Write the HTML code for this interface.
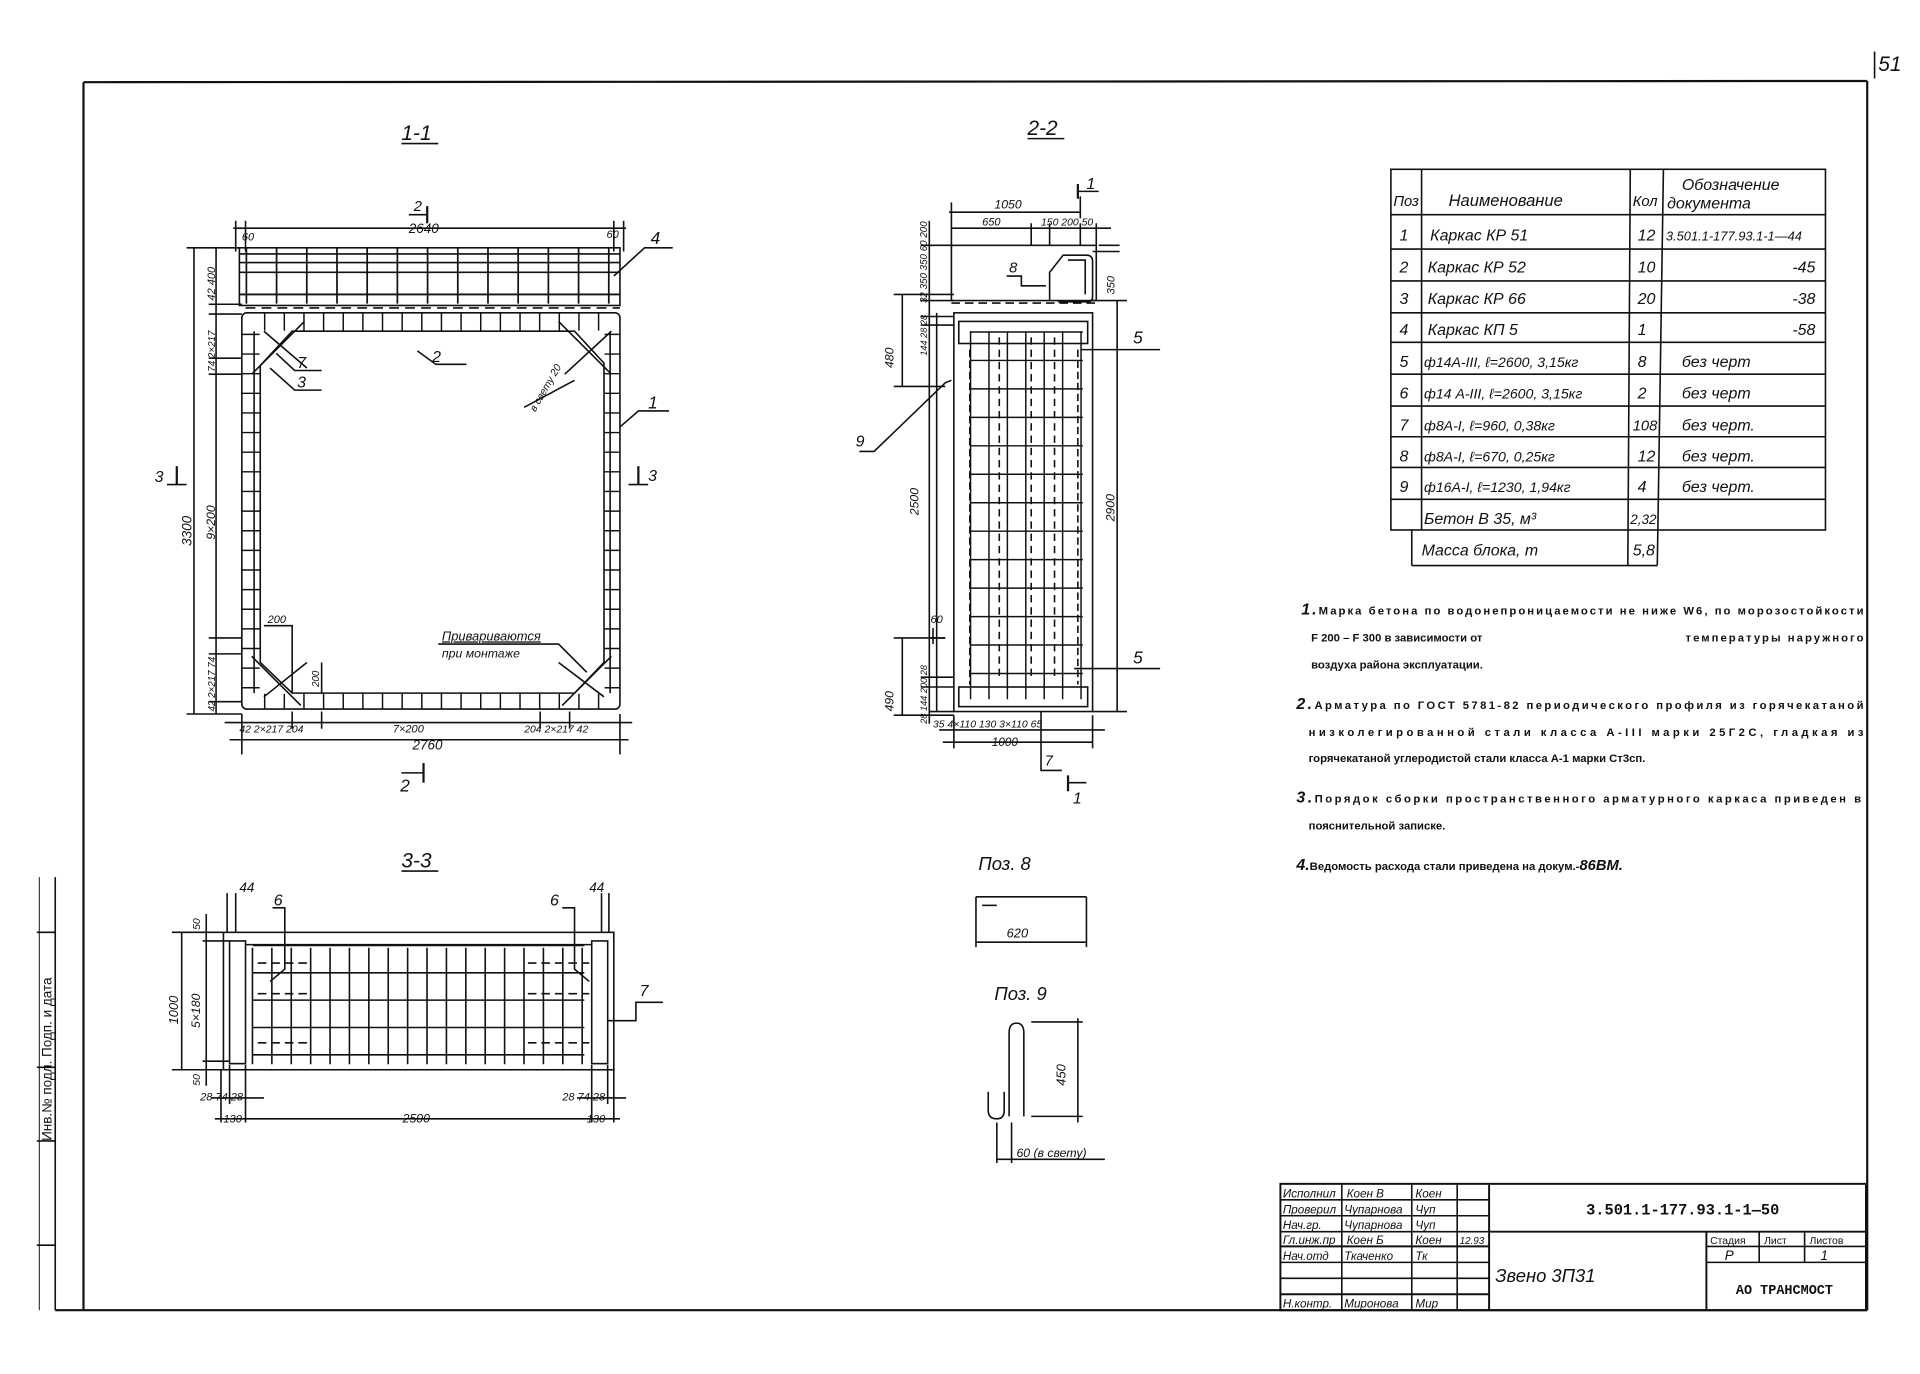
<!DOCTYPE html>
<html><head><meta charset="utf-8"><style>
html,body{margin:0;padding:0;background:#fff;}
svg{display:block;}
.h{font-family:"Liberation Sans","DejaVu Sans",sans-serif;font-style:italic;fill:#111;}
.n{font-family:"Liberation Sans","DejaVu Sans",sans-serif;font-weight:bold;fill:#111;font-size:9.2px;}
</style></head><body>
<svg width="1920" height="1374" viewBox="0 0 1564 1120" preserveAspectRatio="none" xmlns="http://www.w3.org/2000/svg">
<rect width="1564" height="1120" fill="#fff"/>
<g stroke="#111" fill="none" stroke-width="1.3">
<!-- frame -->
<line x1="68" y1="67" x2="1521" y2="66" stroke-width="1.8"/>
<line x1="68" y1="67" x2="68" y2="1068" stroke-width="1.8"/>
<line x1="1521" y1="66" x2="1521" y2="1068" stroke-width="1.8"/>
<line x1="45" y1="1068" x2="1521" y2="1068" stroke-width="1.8"/>
<line x1="1527" y1="42" x2="1527" y2="64"/>
<!-- left strip -->
<line x1="45" y1="715" x2="45" y2="1068"/>
<line x1="30" y1="760" x2="45" y2="760"/><line x1="30" y1="870" x2="45" y2="870"/>
<line x1="30" y1="930" x2="45" y2="930"/><line x1="30" y1="1015" x2="45" y2="1015"/>
<line x1="32" y1="715" x2="32" y2="1068" stroke-width="0.8"/>

<!-- ===== 1-1 ===== -->
<line x1="327" y1="117" x2="357" y2="117"/>
<rect x="195" y="202" width="310" height="47"/>
<line x1="195" y1="207" x2="505" y2="207"/><line x1="195" y1="214" x2="505" y2="214"/>
<line x1="195" y1="222" x2="505" y2="222"/><line x1="195" y1="240" x2="505" y2="240" stroke-width="1.6"/>
<line x1="200" y1="225" x2="500" y2="225" stroke-width="45" stroke-dasharray="1.4 23.2"/>
<line x1="200" y1="251" x2="505" y2="251" stroke-dasharray="8 5"/>
<rect x="197" y="255" width="308" height="323" rx="4"/>
<polygon points="212,298 238,270 468,270 492,296 492,540 468,565 238,565 212,540"/>
<line x1="204.5" y1="272" x2="204.5" y2="565" stroke-width="14" stroke-dasharray="1.2 14.8"/>
<line x1="499" y1="272" x2="499" y2="565" stroke-width="13" stroke-dasharray="1.2 14.8"/>
<line x1="215" y1="262.5" x2="490" y2="262.5" stroke-width="14" stroke-dasharray="1.2 14.8"/>
<line x1="215" y1="571.5" x2="490" y2="571.5" stroke-width="12" stroke-dasharray="1.2 14.8"/>
<line x1="207" y1="270" x2="207" y2="565"/><line x1="497" y1="270" x2="497" y2="565"/>
<line x1="205" y1="305" x2="248" y2="262"/><line x1="215" y1="270" x2="250" y2="300"/>
<line x1="455" y1="262" x2="498" y2="305"/><line x1="498" y1="270" x2="460" y2="305"/>
<line x1="205" y1="535" x2="245" y2="575"/><line x1="215" y1="568" x2="250" y2="540"/>
<line x1="498" y1="535" x2="458" y2="575"/><line x1="492" y1="568" x2="455" y2="540"/>
<!-- dims 1-1 -->
<line x1="190" y1="186" x2="510" y2="186"/><line x1="192" y1="180" x2="192" y2="205"/><line x1="508" y1="180" x2="508" y2="205"/>
<line x1="200" y1="180" x2="200" y2="205"/><line x1="500" y1="180" x2="500" y2="205"/>
<line x1="158" y1="202" x2="158" y2="582"/><line x1="152" y1="202" x2="195" y2="202"/><line x1="152" y1="582" x2="197" y2="582"/>
<line x1="176" y1="202" x2="176" y2="582"/>
<line x1="170" y1="248" x2="197" y2="248"/><line x1="170" y1="256" x2="197" y2="256"/><line x1="170" y1="292" x2="197" y2="292"/>
<line x1="170" y1="305" x2="197" y2="305"/><line x1="170" y1="520" x2="197" y2="520"/><line x1="170" y1="533" x2="197" y2="533"/>
<line x1="170" y1="572" x2="197" y2="572"/>
<line x1="183" y1="589" x2="515" y2="589"/>
<line x1="197" y1="582" x2="197" y2="615"/><line x1="505" y1="582" x2="505" y2="615"/>
<line x1="238" y1="580" x2="238" y2="594"/><line x1="262" y1="580" x2="262" y2="594"/><line x1="440" y1="580" x2="440" y2="594"/><line x1="464" y1="580" x2="464" y2="594"/>
<line x1="187" y1="603" x2="512" y2="603"/>
<!-- section marks -->
<line x1="333" y1="175" x2="348" y2="175"/><line x1="348" y1="168" x2="348" y2="182" stroke-width="1.8"/>
<line x1="327" y1="630" x2="345" y2="630"/><line x1="345" y1="622" x2="345" y2="638" stroke-width="1.8"/>
<line x1="136" y1="395" x2="152" y2="395"/><line x1="144" y1="380" x2="144" y2="395" stroke-width="1.8"/>
<line x1="512" y1="395" x2="528" y2="395"/><line x1="520" y1="380" x2="520" y2="395" stroke-width="1.8"/>
<!-- leaders -->
<polyline points="500,225 525,202 548,202"/>
<polyline points="505,348 520,335 545,335"/>
<polyline points="340,286 355,297 380,297"/>
<polyline points="225,288 240,302 262,302"/>
<polyline points="220,300 240,318 262,318"/>
<line x1="427" y1="332" x2="468" y2="310"/>
<polyline points="357,525 455,525 478,548"/>
<polyline points="215,510 238,510 238,565"/>
<line x1="262" y1="540" x2="262" y2="565"/>

<!-- ===== 2-2 ===== -->
<line x1="837" y1="113" x2="867" y2="113"/>
<line x1="773" y1="173" x2="880" y2="173"/><line x1="775" y1="165" x2="775" y2="200"/><line x1="880" y1="160" x2="880" y2="178"/>
<line x1="775" y1="186" x2="905" y2="186"/><line x1="840" y1="182" x2="840" y2="200"/><line x1="855" y1="182" x2="855" y2="200"/><line x1="880" y1="182" x2="880" y2="200"/><line x1="893" y1="182" x2="893" y2="200"/>
<line x1="878" y1="156" x2="895" y2="156"/><line x1="878" y1="150" x2="878" y2="162" stroke-width="1.8"/>
<rect x="775" y="200" width="118" height="45"/>
<path d="M855,245 L855,222 L866,208 L885,208 Q890,208 890,213 L890,242 Q890,246 886,246 L862,246" />
<path d="M870,212 L884,212 L884,240"/>
<line x1="775" y1="247" x2="893" y2="247" stroke-dasharray="7 4"/>
<rect x="777" y="255" width="113" height="325"/>
<rect x="781" y="262" width="105" height="18"/>
<rect x="781" y="560" width="105" height="16"/>
<line x1="790" y1="420" x2="882" y2="420" stroke-width="300" stroke-dasharray="1.2 13.8"/>
<line x1="836" y1="270" x2="836" y2="560" stroke-width="92" stroke-dasharray="1.2 22"/>
<line x1="814" y1="275" x2="814" y2="555" stroke-dasharray="6 4"/>
<line x1="840" y1="275" x2="840" y2="555" stroke-dasharray="6 4"/>
<line x1="859" y1="275" x2="859" y2="555" stroke-dasharray="6 4"/>
<line x1="790" y1="285" x2="790" y2="558" stroke-dasharray="6 3"/>
<line x1="878" y1="285" x2="878" y2="558" stroke-dasharray="6 3"/>
<!-- dims 2-2 -->
<line x1="763" y1="255" x2="763" y2="580"/><line x1="757" y1="580" x2="777" y2="580"/>
<line x1="757" y1="180" x2="757" y2="590"/><line x1="750" y1="200" x2="777" y2="200"/><line x1="750" y1="245" x2="777" y2="245"/><line x1="750" y1="258" x2="777" y2="258"/><line x1="750" y1="265" x2="777" y2="265"/><line x1="750" y1="552" x2="777" y2="552"/><line x1="750" y1="560" x2="777" y2="560"/>
<line x1="735" y1="240" x2="735" y2="315"/><line x1="728" y1="240" x2="777" y2="240"/><line x1="728" y1="315" x2="770" y2="315"/>
<line x1="735" y1="520" x2="735" y2="583"/><line x1="728" y1="520" x2="770" y2="520"/><line x1="728" y1="583" x2="777" y2="583"/>
<line x1="910" y1="245" x2="910" y2="580"/><line x1="890" y1="245" x2="918" y2="245"/><line x1="890" y1="580" x2="918" y2="580"/>
<line x1="895" y1="200" x2="912" y2="200"/><line x1="890" y1="205" x2="912" y2="205"/>
<polyline points="700,368 712,368 770,312 775,310"/>
<line x1="880" y1="285" x2="945" y2="285"/>
<line x1="875" y1="545" x2="945" y2="545"/>
<polyline points="820,225 832,225 832,233 852,233"/>
<line x1="765" y1="595" x2="900" y2="595"/>
<line x1="768" y1="605" x2="890" y2="605"/><line x1="777" y1="583" x2="777" y2="610"/><line x1="890" y1="583" x2="890" y2="610"/>
<polyline points="848,580 848,628 865,628"/>
<line x1="870" y1="638" x2="885" y2="638"/><line x1="870" y1="632" x2="870" y2="645" stroke-width="1.8"/>
<line x1="760" y1="512" x2="760" y2="525"/><line x1="757" y1="520" x2="770" y2="520"/>

<!-- ===== 3-3 ===== -->
<line x1="327" y1="710" x2="357" y2="710"/>
<rect x="182" y="760" width="318" height="112"/>
<rect x="187" y="767" width="13" height="100"/>
<rect x="482" y="767" width="13" height="100"/>
<line x1="200" y1="770" x2="482" y2="770"/>
<line x1="205" y1="820" x2="480" y2="820" stroke-width="95" stroke-dasharray="1.3 14.5"/>
<line x1="341" y1="770" x2="341" y2="868" stroke-width="270" stroke-dasharray="1.3 21"/>
<g stroke-dasharray="7 4"><line x1="210" y1="785" x2="250" y2="785"/><line x1="430" y1="785" x2="480" y2="785"/><line x1="210" y1="810" x2="250" y2="810"/><line x1="430" y1="810" x2="480" y2="810"/><line x1="210" y1="850" x2="250" y2="850"/><line x1="430" y1="850" x2="480" y2="850"/></g>
<line x1="140" y1="760" x2="182" y2="760"/><line x1="140" y1="872" x2="182" y2="872"/>
<line x1="148" y1="760" x2="148" y2="872"/><line x1="168" y1="745" x2="168" y2="885"/>
<line x1="165" y1="767" x2="187" y2="767"/><line x1="165" y1="865" x2="187" y2="865"/>
<line x1="180" y1="872" x2="180" y2="915"/><line x1="187" y1="868" x2="187" y2="900"/><line x1="200" y1="868" x2="200" y2="915"/>
<line x1="482" y1="868" x2="482" y2="915"/><line x1="495" y1="868" x2="495" y2="900"/><line x1="500" y1="872" x2="500" y2="915"/>
<line x1="172" y1="895" x2="215" y2="895"/><line x1="470" y1="895" x2="510" y2="895"/>
<line x1="175" y1="912" x2="505" y2="912"/>
<line x1="185" y1="728" x2="185" y2="760"/><line x1="192" y1="728" x2="192" y2="760"/>
<line x1="490" y1="728" x2="490" y2="760"/><line x1="496" y1="728" x2="496" y2="760"/>
<polyline points="222,740 232,740 232,790 220,800"/>
<polyline points="458,740 468,740 468,790 480,800"/>
<polyline points="540,817 518,817 518,832 495,832"/>

<!-- Поз 8 -->
<line x1="795" y1="731" x2="885" y2="731"/><line x1="795" y1="731" x2="795" y2="745"/><line x1="885" y1="731" x2="885" y2="745"/>
<line x1="800" y1="738" x2="812" y2="738"/>
<line x1="795" y1="768" x2="885" y2="768"/><line x1="795" y1="745" x2="795" y2="772"/><line x1="885" y1="745" x2="885" y2="772"/>
<!-- Поз 9 -->
<path d="M822,910 L822,842 Q822,834 828,834 Q834,834 834,842 L834,910"/>
<path d="M805,890 L805,905 Q805,912 812,912 Q818,912 818,905 L818,890"/>
<line x1="840" y1="833" x2="882" y2="833"/><line x1="840" y1="910" x2="882" y2="910"/><line x1="878" y1="830" x2="878" y2="915"/>
<line x1="812" y1="915" x2="812" y2="948"/><line x1="824" y1="915" x2="824" y2="948"/><line x1="812" y1="945" x2="900" y2="945"/>

<!-- ===== Table ===== -->
<rect x="1133" y="138" width="354" height="294"/>
<line x1="1158" y1="138" x2="1158" y2="432"/><line x1="1150" y1="432" x2="1150" y2="461"/>
<line x1="1328" y1="138" x2="1326" y2="461"/><line x1="1355" y1="138" x2="1350" y2="461"/>
<line x1="1150" y1="461" x2="1350" y2="461"/>
<line x1="1133" y1="175" x2="1487" y2="175"/><line x1="1133" y1="203" x2="1487" y2="203"/><line x1="1133" y1="229" x2="1487" y2="229"/>
<line x1="1133" y1="255" x2="1487" y2="255"/><line x1="1133" y1="279" x2="1487" y2="279"/><line x1="1133" y1="305" x2="1487" y2="305"/>
<line x1="1133" y1="331" x2="1487" y2="331"/><line x1="1133" y1="356" x2="1487" y2="356"/><line x1="1133" y1="381" x2="1487" y2="381"/>
<line x1="1133" y1="407" x2="1487" y2="407"/>

<!-- ===== Title block ===== -->
<rect x="1043" y="965" width="477" height="103" stroke-width="1.6"/>
<line x1="1213" y1="965" x2="1213" y2="1068" stroke-width="1.6"/>
<line x1="1093" y1="965" x2="1093" y2="1068"/><line x1="1150" y1="965" x2="1150" y2="1068"/><line x1="1187" y1="965" x2="1187" y2="1068"/>
<line x1="1043" y1="978" x2="1213" y2="978"/><line x1="1043" y1="991" x2="1213" y2="991"/><line x1="1043" y1="1004" x2="1213" y2="1004"/>
<line x1="1043" y1="1016" x2="1213" y2="1016" stroke-width="1.6"/><line x1="1043" y1="1029" x2="1213" y2="1029"/><line x1="1043" y1="1042" x2="1213" y2="1042"/><line x1="1043" y1="1055" x2="1213" y2="1055" stroke-width="1.6"/>
<line x1="1213" y1="1004" x2="1520" y2="1004" stroke-width="1.6"/>
<line x1="1390" y1="1004" x2="1390" y2="1068" stroke-width="1.6"/>
<line x1="1390" y1="1016" x2="1520" y2="1016"/><line x1="1390" y1="1029" x2="1520" y2="1029"/>
<line x1="1433" y1="1004" x2="1433" y2="1029"/><line x1="1470" y1="1004" x2="1470" y2="1029"/>
</g>

<g class="h">
<text x="1530" y="58" font-size="17">51</text>
<text x="327" y="114" font-size="17">1-1</text>
<text x="837" y="110" font-size="17">2-2</text>
<text x="327" y="707" font-size="17">3-3</text>
<text x="797" y="709" font-size="15">Поз. 8</text>
<text x="810" y="815" font-size="15">Поз. 9</text>
<!-- 1-1 labels -->
<text x="337" y="172" font-size="12">2</text>
<text x="326" y="645" font-size="14">2</text>
<text x="126" y="393" font-size="13">3</text>
<text x="528" y="392" font-size="13">3</text>
<text x="333" y="190" font-size="11">2640</text>
<text x="197" y="196" font-size="9">60</text><text x="494" y="194" font-size="9">60</text>
<text x="336" y="611" font-size="11">2760</text>
<text x="195" y="597" font-size="8.5">42 2×217 204</text>
<text x="320" y="597" font-size="9">7×200</text>
<text x="427" y="597" font-size="8.5">204 2×217 42</text>
<text x="530" y="199" font-size="14">4</text>
<text x="528" y="333" font-size="14">1</text>
<text x="352" y="295" font-size="13">2</text>
<text x="242" y="300" font-size="13">7</text>
<text x="242" y="316" font-size="13">3</text>
<text x="218" y="508" font-size="9">200</text>
<text x="360" y="522" font-size="10.5" text-decoration="underline">Привариваются</text>
<text x="360" y="536" font-size="10">при монтаже</text>
<text transform="translate(156,445) rotate(-90)" font-size="11">3300</text>
<text transform="translate(175,440) rotate(-90)" font-size="10">9×200</text>
<text transform="translate(175,245) rotate(-90)" font-size="9">42 400</text>
<text transform="translate(175,303) rotate(-90)" font-size="8">74 2×217</text>
<text transform="translate(175,580) rotate(-90)" font-size="8">42 2×217 74</text>
<text transform="translate(260,560) rotate(-90)" font-size="8">200</text>
<text transform="translate(436,336) rotate(-60)" font-size="8.5">в свету 20</text>
<!-- 2-2 labels -->
<text x="810" y="170" font-size="10">1050</text>
<text x="800" y="184" font-size="9">650</text><text x="848" y="184" font-size="8.5">150 200 50</text>
<text x="885" y="154" font-size="13">1</text>
<text x="874" y="655" font-size="13">1</text>
<text x="923" y="280" font-size="14">5</text>
<text x="923" y="541" font-size="14">5</text>
<text x="697" y="364" font-size="13">9</text>
<text x="822" y="222" font-size="12">8</text>
<text x="851" y="624" font-size="12">7</text>
<text x="808" y="608" font-size="9.5">1000</text>
<text x="760" y="593" font-size="8.5">35 4×110 130 3×110 65</text>
<text x="758" y="508" font-size="9">60</text>
<text transform="translate(748,420) rotate(-90)" font-size="10">2500</text>
<text transform="translate(908,425) rotate(-90)" font-size="10">2900</text>
<text transform="translate(908,240) rotate(-90)" font-size="9">350</text>
<text transform="translate(728,300) rotate(-90)" font-size="10">480</text>
<text transform="translate(728,580) rotate(-90)" font-size="10">490</text>
<text transform="translate(755,247) rotate(-90)" font-size="8">32 350 350 60 200</text>
<text transform="translate(755,290) rotate(-90)" font-size="7.5">144 28 28</text>
<text transform="translate(755,590) rotate(-90)" font-size="7.5">28 144 200 28</text>
<!-- 3-3 labels -->
<text x="195" y="727" font-size="11">44</text><text x="480" y="727" font-size="11">44</text>
<text x="223" y="738" font-size="13">6</text><text x="448" y="738" font-size="13">6</text>
<text x="521" y="812" font-size="13">7</text>
<text x="163" y="897" font-size="9">28 74 28</text>
<text x="458" y="897" font-size="9">28 74 28</text>
<text x="182" y="915" font-size="9">130</text><text x="328" y="915" font-size="10">2500</text><text x="478" y="915" font-size="9">130</text>
<text transform="translate(145,835) rotate(-90)" font-size="10.5">1000</text>
<text transform="translate(163,838) rotate(-90)" font-size="10">5×180</text>
<text transform="translate(163,758) rotate(-90)" font-size="8.5">50</text>
<text transform="translate(163,885) rotate(-90)" font-size="8.5">50</text>
<!-- pos 8/9 -->
<text x="820" y="764" font-size="10.5">620</text>
<text transform="translate(868,885) rotate(-90)" font-size="10.5">450</text>
<text x="828" y="943" font-size="10">60 (в свету)</text>
<!-- table -->
<text x="1135" y="168" font-size="12">Поз</text>
<text x="1180" y="168" font-size="13.5">Наименование</text>
<text x="1330" y="168" font-size="12">Кол</text>
<text x="1370" y="155" font-size="13">Обозначение</text>
<text x="1358" y="170" font-size="13">документа</text>
<g font-size="13">
<text x="1140" y="196">1</text><text x="1165" y="196">Каркас КР 51</text><text x="1334" y="196">12</text><text x="1357" y="196" font-size="10.5">3.501.1-177.93.1-1—44</text>
<text x="1140" y="222">2</text><text x="1163" y="222">Каркас КР 52</text><text x="1334" y="222">10</text><text x="1460" y="222">-45</text>
<text x="1140" y="248">3</text><text x="1163" y="248">Каркас КР 66</text><text x="1334" y="248">20</text><text x="1460" y="248">-38</text>
<text x="1140" y="273">4</text><text x="1163" y="273">Каркас КП 5</text><text x="1334" y="273">1</text><text x="1460" y="273">-58</text>
<text x="1140" y="299">5</text><text x="1160" y="299" font-size="11.5">ф14А-III, ℓ=2600, 3,15кг</text><text x="1334" y="299">8</text><text x="1370" y="299">без черт</text>
<text x="1140" y="325">6</text><text x="1160" y="325" font-size="11.5">ф14 А-III, ℓ=2600, 3,15кг</text><text x="1334" y="325">2</text><text x="1370" y="325">без черт</text>
<text x="1140" y="351">7</text><text x="1160" y="351" font-size="11.5">ф8А-I, ℓ=960, 0,38кг</text><text x="1330" y="351" font-size="12">108</text><text x="1370" y="351">без черт.</text>
<text x="1140" y="376">8</text><text x="1160" y="376" font-size="11.5">ф8А-I, ℓ=670, 0,25кг</text><text x="1334" y="376">12</text><text x="1370" y="376">без черт.</text>
<text x="1140" y="401">9</text><text x="1160" y="401" font-size="11.5">ф16А-I, ℓ=1230, 1,94кг</text><text x="1334" y="401">4</text><text x="1370" y="401">без черт.</text>
<text x="1160" y="427">Бетон В 35, м³</text><text x="1328" y="427" font-size="11">2,32</text>
<text x="1158" y="453">Масса блока, т</text><text x="1330" y="453">5,8</text>
</g>
<!-- title block -->
<g font-size="9.5">
<text x="1045" y="976">Исполнил</text><text x="1097" y="976">Коен В</text><text x="1153" y="976">Коен</text>
<text x="1045" y="989">Проверил</text><text x="1095" y="989">Чупарнова</text><text x="1153" y="989">Чуп</text>
<text x="1045" y="1002">Нач.гр.</text><text x="1095" y="1002">Чупарнова</text><text x="1153" y="1002">Чуп</text>
<text x="1045" y="1014">Гл.инж.пр</text><text x="1097" y="1014">Коен Б</text><text x="1153" y="1014">Коен</text><text x="1189" y="1014" font-size="8">12.93</text>
<text x="1045" y="1027">Нач.отд</text><text x="1095" y="1027">Ткаченко</text><text x="1153" y="1027">Тк</text>
<text x="1045" y="1066">Н.контр.</text><text x="1095" y="1066">Миронова</text><text x="1153" y="1066">Мир</text>
</g>
<text x="1218" y="1045" font-size="15">Звено  3П31</text>
<text x="1405" y="1027" font-size="11">Р</text><text x="1483" y="1027" font-size="11">1</text>
</g>
<g font-family="'Liberation Mono',monospace" font-weight="bold" fill="#111">
<text x="1292" y="990" font-size="12.5">3.501.1-177.93.1-1—50</text>
<text x="1414" y="1055" font-size="11">АО  ТРАНСМОСТ</text>
</g>
<g font-family="'Liberation Sans',sans-serif" fill="#111" font-size="8.5">
<text x="1393" y="1014">Стадия</text><text x="1437" y="1014">Лист</text><text x="1474" y="1014">Листов</text>
</g>
<!-- notes -->
<g class="n">
<text x="1060" y="501" textLength="458" lengthAdjust="spacing"><tspan font-style="italic" font-size="13">1.</tspan>Марка бетона по водонепроницаемости не ниже W6, по  морозостойкости</text>
<text x="1068" y="523">F 200  – F  300 в  зависимости от</text>
<text x="1373" y="523" textLength="145" lengthAdjust="spacing">температуры наружного</text>
<text x="1068" y="545">воздуха района эксплуатации.</text>
<text x="1056" y="578" textLength="462" lengthAdjust="spacing"><tspan font-style="italic" font-size="13">2.</tspan>Арматура по  ГОСТ 5781-82  периодического профиля  из горячекатаной</text>
<text x="1066" y="600" textLength="452" lengthAdjust="spacing">низколегированной  стали  класса  А-III  марки  25Г2С,  гладкая   из</text>
<text x="1066" y="621">горячекатаной углеродистой стали класса А-1 марки Ст3сп.</text>
<text x="1056" y="654" textLength="460" lengthAdjust="spacing"><tspan font-style="italic" font-size="13">3.</tspan>Порядок  сборки  пространственного  арматурного  каркаса приведен в</text>
<text x="1066" y="676">пояснительной записке.</text>
<text x="1056" y="709"><tspan font-style="italic" font-size="13">4.</tspan>Ведомость расхода стали приведена на докум.-<tspan font-style="italic" font-size="12">86ВМ.</tspan></text>
</g>
<text transform="translate(42,930) rotate(-90)" font-family="'Liberation Sans',sans-serif" font-size="11" fill="#111">Инв.№ подл.  Подп. и дата</text>
</svg>
</body></html>
